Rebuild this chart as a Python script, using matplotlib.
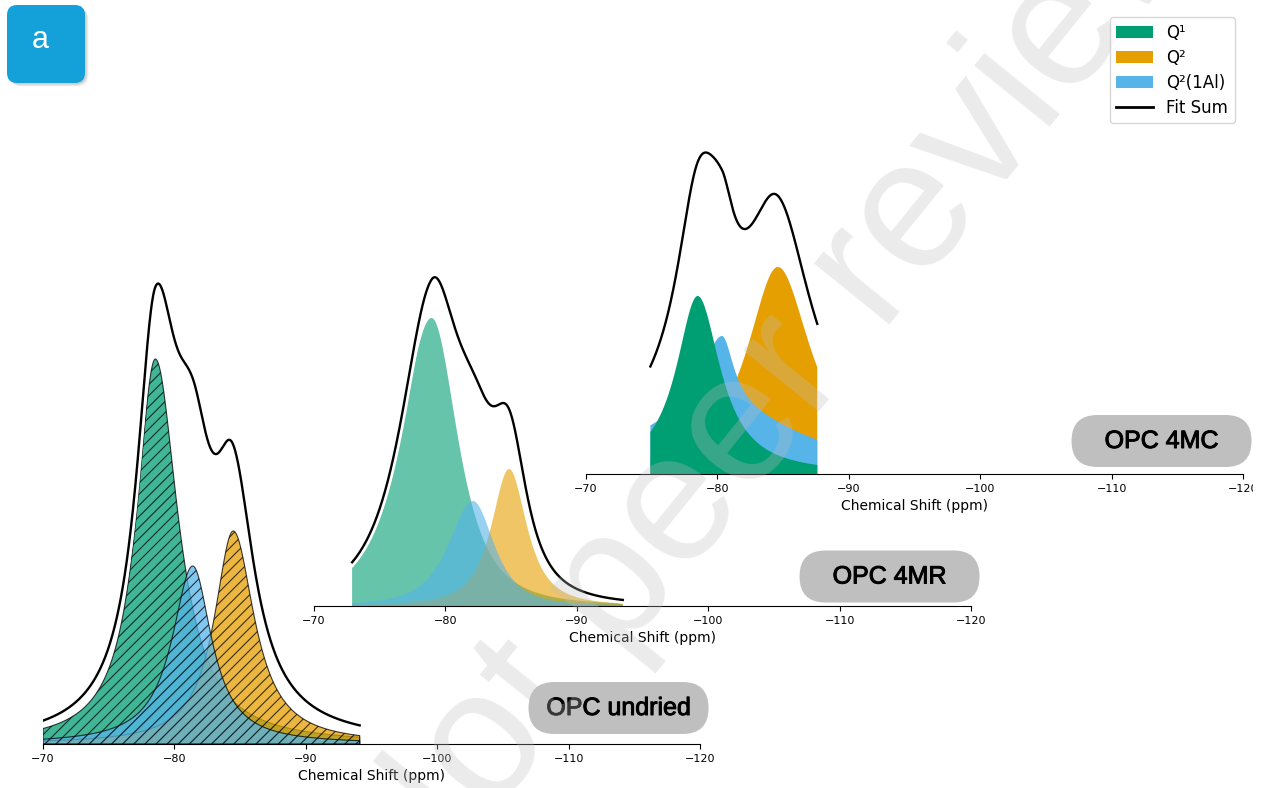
import numpy as np
import matplotlib
matplotlib.use("Agg")
import matplotlib.pyplot as plt
import matplotlib.patheffects as pe
from matplotlib.patches import FancyBboxPatch, Patch
from matplotlib.lines import Line2D
from matplotlib.transforms import ScaledTranslation, Bbox, TransformedBbox

# ---------------------------------------------------------------- data
samples = ["OPC undried", "OPC 4MR", "OPC 4MC"]
ppm_start = [-70.0, -72.9, -74.9]
ppm_end = [-94.1, -93.5, -87.6]

# Deconvoluted 29Si components (Pearson VII lines plus an optional broad
# Lorentzian wing): centre (ppm), height (a.u.), half width on the
# high-ppm / low-ppm side, exponent, wing height, wing half width
q1_center = [-78.55, -78.95, -78.5]
q1_height = [3.85, 2.88, 1.78]
q1_hw_high = [1.75, 2.8, 2.0]
q1_hw_low = [2.1, 2.35, 2.1]
q1_shape = [1.0, 1.5, 1.0]
q1_wing_height = [0.0, 0.0, 0.0]
q1_wing_width = [1.0, 1.0, 1.0]

q2_center = [-84.48, -84.85, -84.6]
q2_height = [2.13, 1.37, 2.07]
q2_hw_high = [1.75, 1.6, 2.9]
q2_hw_low = [1.95, 1.6, 3.1]
q2_shape = [1.0, 1.3, 1.0]
q2_wing_height = [0.0, 0.0, 0.0]
q2_wing_width = [1.0, 1.0, 1.0]

q2al_center = [-81.39, -82.1, -80.35]
q2al_height = [1.78, 1.05, 0.75]
q2al_hw_high = [1.9, 2.2, 1.8]
q2al_hw_low = [1.75, 1.9, 1.1]
q2al_shape = [1.0, 1.5, 1.0]
q2al_wing_height = [0.0, 0.0, 0.63]
q2al_wing_width = [1.0, 1.0, 7.5]

x_ticks = [-70, -80, -90, -100, -110, -120]
component_labels = ["Q\u00b9", "Q\u00b2", "Q\u00b2(1Al)"]
component_colors = ["#009E73", "#E69F00", "#56B4E9"]


def line_shape(x, c, h, w_high, w_low, m, wing_h, wing_w):
    w = np.where(x > c, w_high, w_low)
    k = 2.0 ** (1.0 / m) - 1.0
    core = h * (1.0 + k * ((x - c) / w) ** 2) ** (-m)
    wing = wing_h / (1.0 + ((x - c) / wing_w) ** 2)
    return core + wing


# ---------------------------------------------------------------- layout
W, H = 1265, 788
fig = plt.figure(figsize=(W / 100, H / 100), dpi=100)
fig.patch.set_facecolor("white")

axes_origin_px = [(43, 44), (314, 182), (586, 314)]
ax_w_px, ax_h_px = 657, 480
tag_height = [0.36, 0.295, 0.33]

panel_styles = [
    dict(alpha=0.75, hatch="///", edgecolor=(0, 0, 0, 0.75), linewidth=0.8),
    dict(alpha=0.6, linewidth=0),
    dict(alpha=1.0, linewidth=0),
]
# drawing order of the components (indices into Q1, Q2, Q2(1Al))
panel_order = [(0, 1, 2), (0, 1, 2), (1, 2, 0)]

plt.rcParams["hatch.linewidth"] = 0.8

# printable area of the page (the far right strip is trimmed)
page_clip = TransformedBbox(Bbox([[0, 0], [1253 / W, 1]]), fig.transFigure)

axes = []
for i in range(3):
    x0, y0 = axes_origin_px[i]
    ax = fig.add_axes([x0 / W, y0 / H, ax_w_px / W, ax_h_px / H])
    ax.patch.set_alpha(0)
    axes.append(ax)

    x = np.linspace(ppm_start[i], ppm_end[i], 800)
    comps = [
        line_shape(x, q1_center[i], q1_height[i], q1_hw_high[i], q1_hw_low[i],
                   q1_shape[i], q1_wing_height[i], q1_wing_width[i]),
        line_shape(x, q2_center[i], q2_height[i], q2_hw_high[i], q2_hw_low[i],
                   q2_shape[i], q2_wing_height[i], q2_wing_width[i]),
        line_shape(x, q2al_center[i], q2al_height[i], q2al_hw_high[i], q2al_hw_low[i],
                   q2al_shape[i], q2al_wing_height[i], q2al_wing_width[i]),
    ]
    total = comps[0] + comps[1] + comps[2]

    style = panel_styles[i]
    for j in panel_order[i]:
        kw = dict(style)
        if "edgecolor" not in kw:
            kw["edgecolor"] = "none"
        ax.fill_between(x, comps[j], 0, facecolor=component_colors[j], **kw)

    ax.plot(x, total, color="black", lw=1.7, zorder=5,
            path_effects=[pe.Stroke(linewidth=5.5, foreground="white"), pe.Normal()])

    ax.set_xlim(-70, -120)
    ax.set_ylim(0, ax_h_px / 100)
    ax.set_xticks(x_ticks)
    ax.tick_params(axis="x", labelsize=8)
    ax.set_yticks([])
    for s in ("top", "right", "left"):
        ax.spines[s].set_visible(False)
    ax.set_xlabel("Chemical Shift (ppm)", fontsize=10)
    for lbl in ax.get_xticklabels():
        lbl.set_clip_box(page_clip)
        lbl.set_clip_on(True)

# sample name tags
for i, ax in enumerate(axes):
    trans = fig.dpi_scale_trans + ScaledTranslation(-113.8, tag_height[i], ax.transData)
    tag = FancyBboxPatch((-0.9, -0.26), 1.8, 0.52,
                         boxstyle="round,pad=0,rounding_size=0.26",
                         transform=trans, facecolor="#bfbfbf", edgecolor="none",
                         zorder=2)
    fig.add_artist(tag)
    fig.text(0, 0, samples[i], transform=trans, ha="center", va="center",
             fontsize=18, family="Liberation Sans", color="black", zorder=3,
             path_effects=[pe.withStroke(linewidth=0.7, foreground="black")])

# legend
handles = [Patch(facecolor=c, edgecolor="none", label=l)
           for c, l in zip(component_colors, component_labels)]
handles.append(Line2D([], [], color="black", lw=2, label="Fit Sum"))
leg = fig.legend(handles=handles, loc="upper right",
                 bbox_to_anchor=(1235 / W, 1 - 17 / H), borderaxespad=0,
                 fontsize=12, frameon=True, handlelength=2.2, labelspacing=0.42)
leg.set_zorder(6)

# panel badge
inch = fig.dpi_scale_trans
for k, a in enumerate([0.10, 0.14, 0.18]):
    off = 0.035 - 0.01 * k
    sh = FancyBboxPatch((0.07 + off, (H - 83) / 100 - off), 0.78, 0.78,
                        boxstyle="round,pad=0,rounding_size=0.11",
                        transform=inch, facecolor="#808080", edgecolor="none",
                        alpha=a, zorder=7)
    fig.add_artist(sh)
badge = FancyBboxPatch((0.07, (H - 83) / 100), 0.78, 0.78,
                       boxstyle="round,pad=0,rounding_size=0.1",
                       transform=inch, facecolor="#14A0D9", edgecolor="none",
                       zorder=8)
fig.add_artist(badge)
fig.text(40 / W, 1 - 40 / H, "a", ha="center", va="center", fontsize=22,
         family="Liberation Sans", color="white", zorder=9)

# watermark
fig.text(839 / W, 1 - 312 / H, "Not peer reviewed", fontsize=132,
         family="Liberation Sans", color=(0.75, 0.75, 0.75), alpha=0.3,
         rotation=51, rotation_mode="anchor", ha="center", va="center",
         zorder=4)

fig.savefig("out.png", dpi=100)
